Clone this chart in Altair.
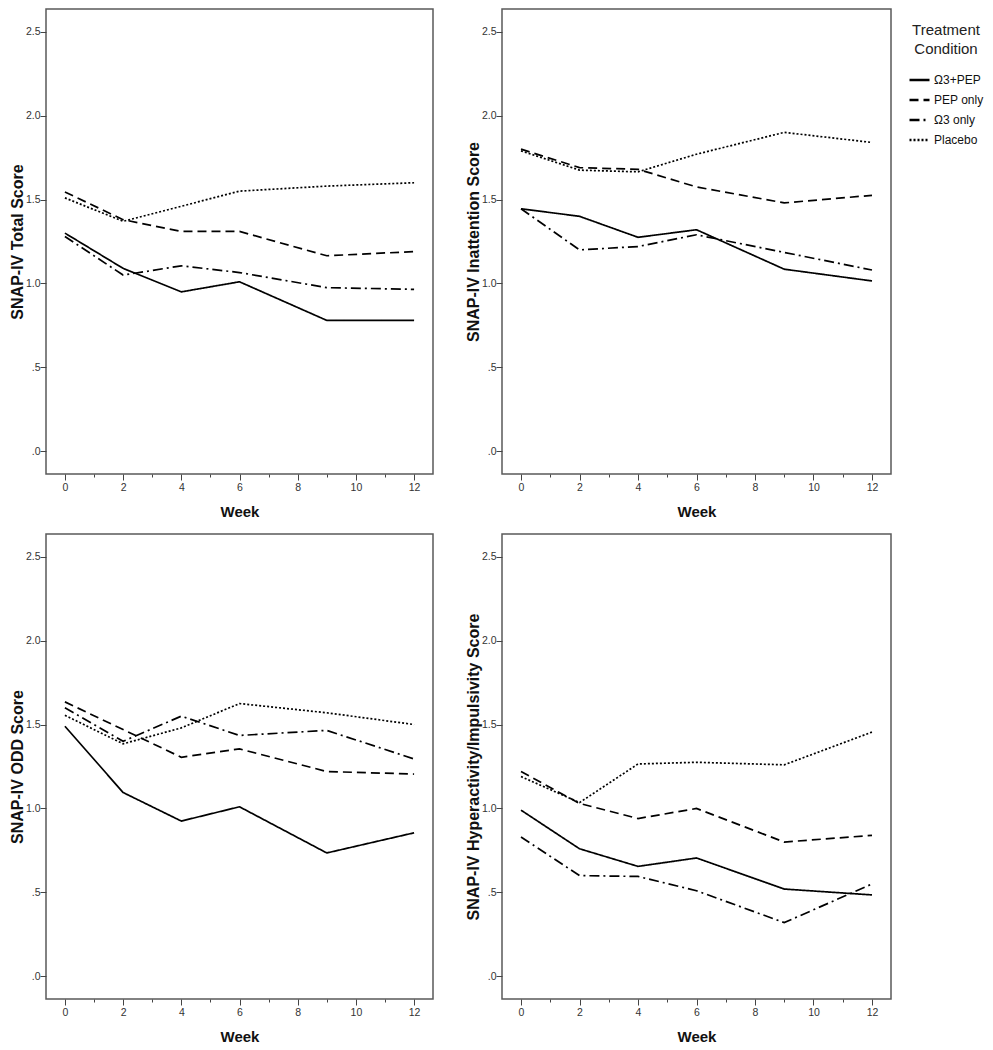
import altair as alt
import pandas as pd

weeks = [0, 2, 4, 6, 9, 12]
groups = ["Ω3+PEP", "PEP only", "Ω3 only", "Placebo"]

# SNAP-IV Total Score
total_o3pep = [1.30, 1.09, 0.95, 1.01, 0.78, 0.78]
total_pep = [1.545, 1.38, 1.31, 1.31, 1.165, 1.19]
total_o3 = [1.28, 1.05, 1.105, 1.065, 0.975, 0.965]
total_placebo = [1.51, 1.37, 1.46, 1.55, 1.58, 1.60]

# SNAP-IV Inattention Score
inatt_o3pep = [1.445, 1.40, 1.275, 1.32, 1.085, 1.015]
inatt_pep = [1.80, 1.69, 1.68, 1.575, 1.48, 1.525]
inatt_o3 = [1.445, 1.20, 1.22, 1.29, 1.185, 1.08]
inatt_placebo = [1.79, 1.675, 1.665, 1.77, 1.90, 1.84]

# SNAP-IV ODD Score
odd_o3pep = [1.49, 1.095, 0.925, 1.01, 0.735, 0.855]
odd_pep = [1.635, 1.47, 1.305, 1.355, 1.22, 1.205]
odd_o3 = [1.60, 1.40, 1.55, 1.435, 1.465, 1.295]
odd_placebo = [1.555, 1.385, 1.48, 1.625, 1.57, 1.50]

# SNAP-IV Hyperactivity/Impulsivity Score
hyp_o3pep = [0.99, 0.76, 0.655, 0.705, 0.52, 0.485]
hyp_pep = [1.22, 1.03, 0.94, 1.00, 0.80, 0.84]
hyp_o3 = [0.83, 0.60, 0.595, 0.51, 0.32, 0.55]
hyp_placebo = [1.19, 1.035, 1.265, 1.275, 1.26, 1.455]

y_ticks = [0.0, 0.5, 1.0, 1.5, 2.0, 2.5]
x_ticks = list(range(13))

dashes = [[1, 0], [9, 5], [10, 4, 2, 4], [2, 2]]

FONT = "Liberation Sans"


def make_df(series):
    rows = []
    for g, vals in zip(groups, series):
        for w, v in zip(weeks, vals):
            rows.append({"Week": w, "Score": v, "Group": g})
    return pd.DataFrame(rows)


def panel(series, ytitle, width):
    df = make_df(series)
    return (
        alt.Chart(df)
        .mark_line(color="black", strokeWidth=1.7)
        .encode(
            x=alt.X(
                "Week:Q",
                scale=alt.Scale(domain=[-0.65, 12.65], nice=False, zero=False),
                axis=alt.Axis(
                    values=x_ticks,
                    labelExpr="datum.value % 2 === 0 ? datum.label : ''",
                    tickSize={"condition": {"test": "datum.value % 2 === 0", "value": 6}, "value": 3},
                    title="Week",
                    titlePadding=12,
                    labelPadding=2,
                    grid=False,
                ),
            ),
            y=alt.Y(
                "Score:Q",
                scale=alt.Scale(domain=[-0.135, 2.635], nice=False, zero=False),
                axis=alt.Axis(
                    values=y_ticks,
                    format=".1f",
                    labelExpr="datum.value < 1 ? slice(datum.label, 1) : datum.label",
                    title=ytitle,
                    titlePadding=0,
                    labelPadding=0,
                    tickSize=6,
                    titleFontSize=16,
                    grid=False,
                ),
            ),
            strokeDash=alt.StrokeDash(
                "Group:N",
                scale=alt.Scale(domain=groups, range=dashes),
                legend=alt.Legend(title=["Treatment", "Condition"]),
            ),
            order=alt.Order("Week:Q"),
        )
        .properties(width=width, height=465)
    )


p1 = panel([total_o3pep, total_pep, total_o3, total_placebo], "SNAP-IV Total Score", 387)
p2 = panel([inatt_o3pep, inatt_pep, inatt_o3, inatt_placebo], "SNAP-IV Inattention Score", 389)
p3 = panel([odd_o3pep, odd_pep, odd_o3, odd_placebo], "SNAP-IV ODD Score", 387)
p4 = panel([hyp_o3pep, hyp_pep, hyp_o3, hyp_placebo], "SNAP-IV Hyperactivity/Impulsivity Score", 389)

chart = (
    alt.vconcat(
        alt.hconcat(p1, p2, spacing=30),
        alt.hconcat(p3, p4, spacing=30),
        spacing=12,
    )
    .properties(padding={"left": 0, "top": 0, "right": 0, "bottom": 0})
    .configure_view(stroke="#5a5a5a", strokeWidth=1.5)
    .configure_axis(
        domain=False,
        labelFont=FONT,
        labelFontSize=10.5,
        labelColor="#333333",
        tickColor="#444444",
        tickWidth=1,
        titleFont=FONT,
        titleFontSize=15,
        titleFontWeight="bold",
        titleColor="#111111",
    )
    .configure_legend(
        orient="none",
        legendX=862,
        legendY=14,
        padding=0,
        titleFont=FONT,
        titleFontSize=15,
        titleFontWeight="normal",
        titleColor="#222222",
        titleAlign="center",
        titleAnchor="middle",
        titleBaseline="top",
        titleLineHeight=18.5,
        titlePadding=12,
        labelFont=FONT,
        labelFontSize=12,
        labelColor="#111111",
        labelOffset=3,
        symbolType="stroke",
        symbolSize=400,
        symbolStrokeWidth=2.5,
        symbolStrokeColor="black",
        rowPadding=2,
    )
)

chart.save("out.html", embed_options={"renderer": "svg", "actions": False})
